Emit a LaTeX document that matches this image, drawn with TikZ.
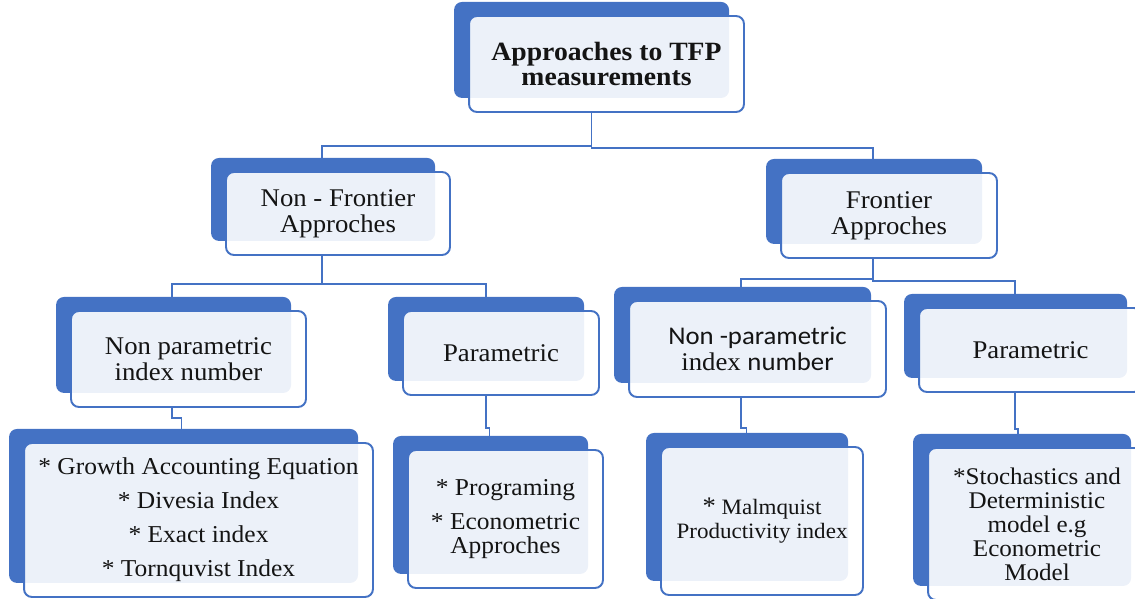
\documentclass[tikz,border=0pt]{standalone}
\usepackage{fontspec}
\setmainfont{Liberation Serif}[FakeStretch=1.05]
\newfontfamily\calsans{Carlito}[FakeStretch=1.05]
\usepackage{tikz}
\usetikzlibrary{calc,shadows,backgrounds}
\definecolor{boxblue}{HTML}{4472C4}
\definecolor{inktext}{HTML}{141414}
\tikzset{
  unit/.style={rectangle, rounded corners=4.5pt, draw=boxblue, line width=1.1pt,
               fill=white, fill opacity=0.9, text opacity=1, text=inktext,
               align=center, inner sep=2pt, font=\fontsize{14.5}{14.6}\selectfont,
               copy shadow={shadow xshift=-8.5pt, shadow yshift=8pt,
                            fill=boxblue, draw=none, fill opacity=1}},
  titleunit/.style={unit, font=\fontsize{15}{14.4}\selectfont\bfseries},
  listunit/.style={unit, font=\fontsize{13.8}{19.3}\selectfont},
  branch/.style={draw=boxblue, line width=1.1pt},
}

\begin{document}
\begin{tikzpicture}[x=0.02cm, y=-0.02cm]
  \useasboundingbox (0,0) rectangle (1135,598);

  % top
  \node[titleunit, minimum width=5.5cm, minimum height=1.92cm] (tfp) at (606.5,64)
       {Approaches to TFP\\measurements};

  % second level
  \node[unit, minimum width=4.48cm, minimum height=1.66cm] (nonfr) at (338,213.5)
       {Non - Frontier\\Approches};
  \node[unit, minimum width=4.32cm, minimum height=1.7cm] (fr) at (889,215.5)
       {Frontier\\Approches};

  % third level
  \node[unit, minimum width=4.7cm, minimum height=1.92cm] (npl) at (188.5,359)
       {Non parametric\\index number};
  \node[unit, minimum width=3.92cm, minimum height=1.68cm] (parl) at (501,353)
       {Parametric};
  \node[unit, minimum width=5.14cm, minimum height=1.92cm] (npr) at (757.5,349)
       {{\calsans Non -parametric}\\index {\calsans number}};
  \node[unit, minimum width=4.46cm, minimum height=1.68cm] (parr) at (1030.5,350)
       {Parametric};

  % bottom level
  \node[listunit, minimum width=6.98cm, minimum height=3.08cm] (growth) at (198.5,520)
       {* Growth Accounting Equation\\* Divesia Index\\* Exact index\\* Tornquvist Index};
  \node[unit, minimum width=3.9cm, minimum height=2.76cm, font=\fontsize{13.8}{13.7}\selectfont] (progr) at (505.5,519)
       {* Programing\\[6pt]* Econometric\\Approches};
  \node[unit, minimum width=4.04cm, minimum height=2.96cm, font=\fontsize{12.5}{13.7}\selectfont] (malm) at (762,521)
       {{\Large *} Malmquist\\Productivity index};
  \node[unit, minimum width=4.36cm, minimum height=3.04cm, font=\fontsize{13.6}{13.7}\selectfont] (stoch) at (1037,524)
       {*Stochastics and\\Deterministic\\model e.g\\Econometric\\Model};

  \begin{scope}[on background layer]
    \draw[branch] ($(tfp.south)+(-15,0)$) -- ++(0,33) -| ($(nonfr.north)+(-16,0)$);
    \draw[branch] ($(tfp.south)+(-15,0)$) -- ++(0,35) -| ($(fr.north)+(-16,0)$);
    \draw[branch] ($(nonfr.south)+(-16,0)$) -- ++(0,28) -| ($(npl.north)+(-16.5,0)$);
    \draw[branch] ($(nonfr.south)+(-16,0)$) -- ++(0,28) -| ($(parl.north)+(-15,0)$);
    \draw[branch] ($(fr.south)+(-16,0)$) -- ++(0,20) -| ($(npr.north)+(-16.5,0)$);
    \draw[branch] ($(fr.south)+(-16,0)$) -- ++(0,22) -| ($(parr.north)+(-15.5,0)$);
    \draw[branch] ($(npl.south)+(-16.5,0)$) -- ++(0,10) -| ($(growth.north)+(-17,0)$);
    \draw[branch] ($(parl.south)+(-15,0)$) -- ++(0,32) -| ($(progr.north)+(-16,0)$);
    \draw[branch] ($(npr.south)+(-16.5,0)$) -- ++(0,30) -| ($(malm.north)+(-15.5,0)$);
    \draw[branch] ($(parr.south)+(-15.5,0)$) -- ++(0,36) -| ($(stoch.north)+(-19,0)$);
  \end{scope}
\end{tikzpicture}
\end{document}
